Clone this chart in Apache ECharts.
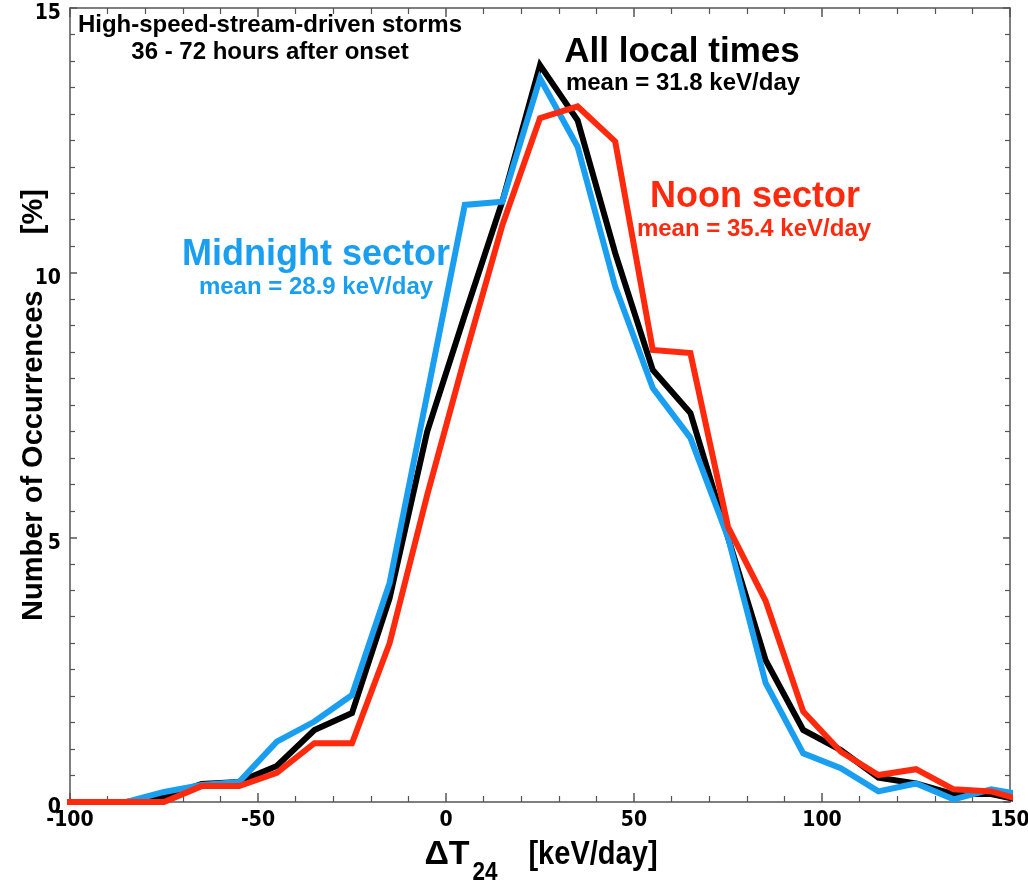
<!DOCTYPE html>
<html>
<head>
<meta charset="utf-8">
<script src="https://cdn.jsdelivr.net/npm/echarts@6/dist/echarts.min.js"></script>
<style>
  html, body { margin: 0; padding: 0; background: #fff; }
  #chart { width: 1028px; height: 882px; }
</style>
</head>
<body>
<div id="chart"></div>
<script>
// Bin centres of the ΔT24 histogram [keV/day]
const binCenters = [-105, -95, -85, -75, -65, -55, -45, -35, -25, -15, -5, 5, 15, 25, 35, 45, 55, 65, 75, 85, 95, 105, 115, 125, 135, 145, 155];

// Occurrence percentages per bin
const allLocalTimes = [0, 0, 0, 0.09, 0.34, 0.38, 0.68, 1.36, 1.68, 3.85, 7.0, 9.2, 11.35, 13.92, 12.88, 10.37, 8.16, 7.35, 5.0, 2.68, 1.36, 0.98, 0.46, 0.35, 0.15, 0.15, 0.0];
const midnightSector = [0, 0, 0, 0.19, 0.32, 0.38, 1.14, 1.52, 2.02, 4.14, 7.7, 11.28, 11.34, 13.67, 12.38, 9.74, 7.82, 6.88, 5.0, 2.25, 0.92, 0.64, 0.2, 0.35, 0.05, 0.24, 0.12];
const noonSector = [0, 0, 0, 0, 0.30, 0.30, 0.55, 1.11, 1.11, 3.0, 5.8, 8.4, 10.9, 12.92, 13.14, 12.48, 8.54, 8.48, 5.2, 3.8, 1.71, 0.95, 0.51, 0.62, 0.24, 0.2, 0.0];

// Axis ranges and tick labels
const xRange = [-100, 150];
const xTicks = [-100, -50, 0, 50, 100, 150];
const yRange = [0, 15];
const yTicks = [0, 5, 10, 15];

const COLORS = { all: '#000000', midnight: '#1a9ff0', noon: '#ff2a0e' };
const SANS = "'Liberation Sans', Arial, Helvetica, sans-serif";
const NARROW = "'Liberation Sans Narrow', 'Arial Narrow', 'DejaVu Sans Condensed', sans-serif";

const pairs = (vals) => binCenters.map((x, i) => [x, vals[i]]);

const frameAxisLine = { show: true, onZero: false, lineStyle: { color: '#555', width: 1.5 } };

const chart = echarts.init(document.getElementById('chart'), null, { renderer: 'canvas' });

// Bold sans text, optionally squeezed horizontally, for the x-axis title pieces
const titlePiece = (text, x, y, size, sx) => ({
  type: 'text', x: x, y: y, scaleX: sx, scaleY: 1,
  style: { text: text, fill: '#000', font: 'bold ' + size + 'px ' + SANS, align: 'center', verticalAlign: 'middle' }
});

chart.setOption({
  backgroundColor: '#ffffff',
  animation: false,
  grid: { left: 70, right: 18, top: 8, bottom: 80, containLabel: false, outerBoundsMode: 'none' },
  xAxis: [
    {
      type: 'value', min: xRange[0], max: xRange[1], interval: 50, position: 'bottom',
      axisLine: frameAxisLine,
      axisTick: { show: true, inside: true, length: 9, lineStyle: { color: '#555', width: 1.5 } },
      minorTick: { show: true, splitNumber: 5, length: 6, lineStyle: { color: '#555', width: 1.2 } },
      splitLine: { show: false },
      axisLabel: {
        show: true, margin: 8, color: '#000', fontFamily: NARROW, fontWeight: 'bold', fontSize: 21,
        customValues: xTicks, formatter: (v) => String(v)
      }
    },
    {
      type: 'value', min: xRange[0], max: xRange[1], interval: 50, position: 'top',
      axisLine: frameAxisLine,
      axisTick: { show: true, inside: true, length: 9, lineStyle: { color: '#555', width: 1.5 } },
      minorTick: { show: true, splitNumber: 5, length: 6, lineStyle: { color: '#555', width: 1.2 } },
      splitLine: { show: false }, axisLabel: { show: false }
    }
  ],
  yAxis: [
    {
      type: 'value', min: yRange[0], max: yRange[1], interval: 5, position: 'left',
      axisLine: frameAxisLine,
      axisTick: { show: true, inside: true, length: 7, lineStyle: { color: '#555', width: 1.5 } },
      minorTick: { show: true, splitNumber: 10, length: 5, lineStyle: { color: '#555', width: 1.2 } },
      splitLine: { show: false },
      axisLabel: {
        show: true, margin: 9, color: '#000', fontFamily: NARROW, fontWeight: 'bold', fontSize: 21,
        customValues: yTicks, formatter: (v) => String(v), verticalAlign: 'top', lineHeight: 12
      },
      name: 'Number of Occurrences       [%]',
      nameLocation: 'middle', nameRotate: 90, nameGap: 22, nameMoveOverlap: false,
      nameTextStyle: { color: '#000', fontFamily: SANS, fontWeight: 'bold', fontSize: 29 }
    },
    {
      type: 'value', min: yRange[0], max: yRange[1], interval: 5, position: 'right',
      axisLine: frameAxisLine,
      axisTick: { show: true, inside: true, length: 7, lineStyle: { color: '#555', width: 1.5 } },
      minorTick: { show: true, splitNumber: 10, length: 5, lineStyle: { color: '#555', width: 1.2 } },
      splitLine: { show: false }, axisLabel: { show: false }
    }
  ],
  series: [
    {
      name: 'All local times', type: 'line', data: pairs(allLocalTimes),
      showSymbol: false, clip: true, z: 3,
      lineStyle: { color: COLORS.all, width: 6, join: 'miter' }
    },
    {
      name: 'Midnight sector', type: 'line', data: pairs(midnightSector),
      showSymbol: false, clip: true, z: 4,
      lineStyle: { color: COLORS.midnight, width: 6, join: 'miter' }
    },
    {
      name: 'Noon sector', type: 'line', data: pairs(noonSector),
      showSymbol: false, clip: true, z: 5,
      lineStyle: { color: COLORS.noon, width: 6, join: 'miter' }
    }
  ],
  graphic: [
    // Storm-type header
    { type: 'text', x: 270, y: 25, style: { text: 'High-speed-stream-driven storms', fill: '#000', font: "bold 24px " + SANS, align: 'center', verticalAlign: 'middle' } },
    { type: 'text', x: 270, y: 52, style: { text: '36 - 72 hours after onset', fill: '#000', font: "bold 24px " + SANS, align: 'center', verticalAlign: 'middle' } },
    // Curve labels with their means
    { type: 'text', x: 682, y: 52, style: { text: 'All local times', fill: COLORS.all, font: "bold 35px " + SANS, align: 'center', verticalAlign: 'middle' } },
    { type: 'text', x: 683, y: 83, style: { text: 'mean = 31.8 keV/day', fill: COLORS.all, font: "bold 24px " + SANS, align: 'center', verticalAlign: 'middle' } },
    { type: 'text', x: 755, y: 197, style: { text: 'Noon sector', fill: COLORS.noon, font: "bold 36px " + SANS, align: 'center', verticalAlign: 'middle' } },
    { type: 'text', x: 754, y: 229, style: { text: 'mean = 35.4 keV/day', fill: COLORS.noon, font: "bold 24px " + SANS, align: 'center', verticalAlign: 'middle' } },
    { type: 'text', x: 316, y: 255, style: { text: 'Midnight sector', fill: COLORS.midnight, font: "bold 36px " + SANS, align: 'center', verticalAlign: 'middle' } },
    { type: 'text', x: 316, y: 287, style: { text: 'mean = 28.9 keV/day', fill: COLORS.midnight, font: "bold 24px " + SANS, align: 'center', verticalAlign: 'middle' } },
    // x-axis title: ΔT with subscript 24, then the unit
    titlePiece('ΔT', 447, 855, 34, 1),
    titlePiece('24', 485, 873, 25, 0.9),
    titlePiece('[keV/day]', 593, 855, 33, 0.88)
  ]
});
</script>
</body>
</html>
